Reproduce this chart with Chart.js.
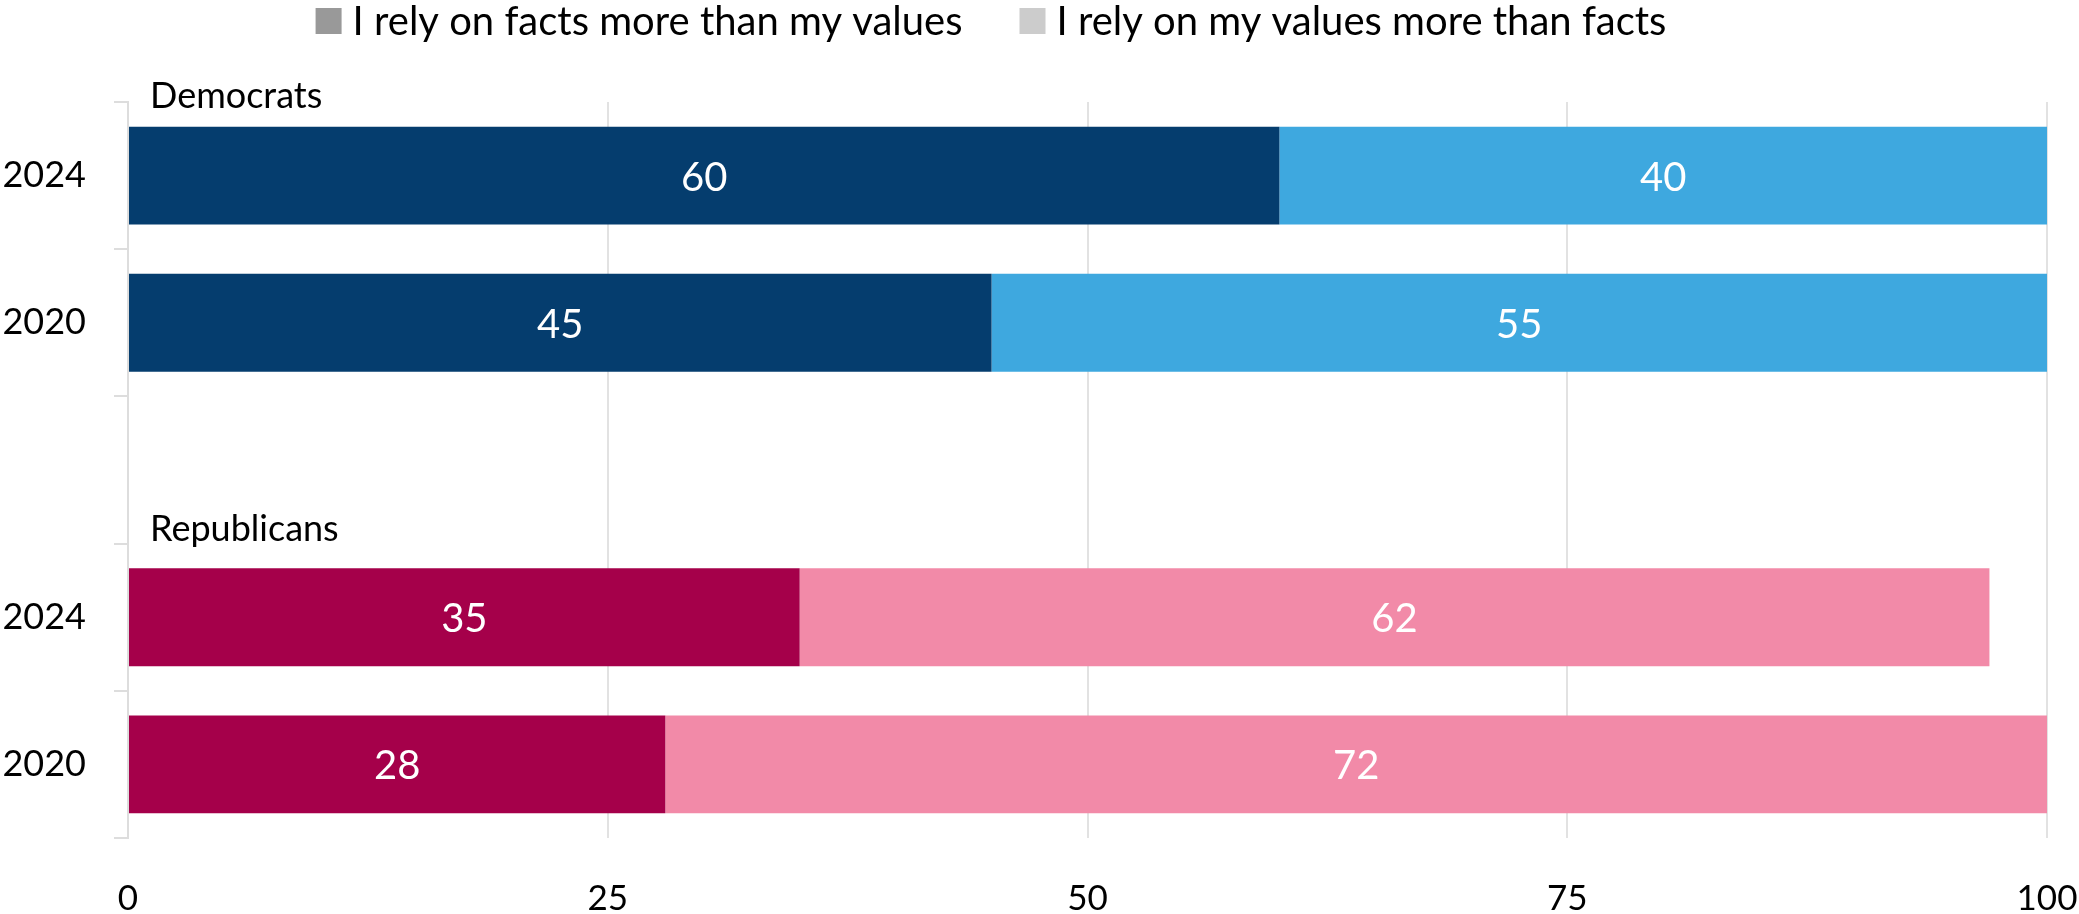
<!DOCTYPE html>
<html>
<head>
<meta charset="utf-8">
<script src="https://cdn.jsdelivr.net/npm/chart.js@4"></script>
<style>
  html, body { margin: 0; padding: 0; background: #fff; }
  #wrap { width: 2079px; height: 914px; }
</style>
</head>
<body>
<div id="wrap"><canvas id="chart" width="2079" height="914"></canvas></div>
<script>
// categories (the empty one is the gap between the two parties)
const years = ['2024', '2020', '', '2024', '2020'];
const factsShare = [60, 45, null, 35, 28];
const valuesShare = [40, 55, null, 62, 72];
const factsColors = ['#053d6e', '#053d6e', '#053d6e', '#a5004a', '#a5004a'];
const valuesColors = ['#3ea8df', '#3ea8df', '#3ea8df', '#f28aa8', '#f28aa8'];
const seriesNames = ['I rely on facts more than my values', 'I rely on my values more than facts'];
const legendColors = ['#999999', '#cccccc'];
const partyNames = ['Democrats', 'Republicans'];
const partyFirstRow = [0, 3];
const xTicks = [0, 25, 50, 75, 100];

const FONT = 'Lato, "Open Sans", sans-serif';

// legend drawn by hand: grey squares + text, centred a bit left of the page middle
const topLegend = {
    id: 'topLegend',
    afterDraw(chart) {
        const ctx = chart.ctx;
        ctx.save();
        ctx.font = '40px ' + FONT;
        const box = 26, boxGap = 11, itemGap = 57;
        const widths = seriesNames.map(n => box + boxGap + ctx.measureText(n).width);
        const total = widths.reduce((a, b) => a + b, 0) + itemGap * (widths.length - 1);
        let x = 991 - total / 2;
        ctx.textBaseline = 'middle';
        ctx.textAlign = 'left';
        seriesNames.forEach((n, i) => {
            ctx.fillStyle = legendColors[i];
            ctx.fillRect(x, 8, box, box);
            ctx.fillStyle = '#000';
            ctx.fillText(n, x + box + boxGap, 22);
            x += widths[i] + itemGap;
        });
        ctx.restore();
    },
};

// white numbers in the middle of each segment
const valueLabels = {
    id: 'valueLabels',
    afterDatasetsDraw(chart) {
        const ctx = chart.ctx;
        ctx.save();
        ctx.fillStyle = '#ffffff';
        ctx.font = '40px ' + FONT;
        ctx.textAlign = 'center';
        ctx.textBaseline = 'middle';
        chart.data.datasets.forEach((ds, di) => {
            chart.getDatasetMeta(di).data.forEach((bar, i) => {
                const v = ds.data[i];
                if (v == null) return;
                const p = bar.getCenterPoint();
                ctx.fillText(String(v), p.x, p.y + 2);
            });
        });
        ctx.restore();
    },
};

// party names above each group
const partyLabels = {
    id: 'partyLabels',
    afterDatasetsDraw(chart) {
        const ctx = chart.ctx;
        const y = chart.scales.y;
        const slot = Math.abs(y.getPixelForValue(1) - y.getPixelForValue(0));
        ctx.save();
        ctx.fillStyle = '#000000';
        ctx.font = '36px ' + FONT;
        ctx.textAlign = 'left';
        ctx.textBaseline = 'alphabetic';
        partyNames.forEach((name, k) => {
            const top = y.getPixelForValue(partyFirstRow[k]) - slot / 2;
            const off = k === 0 ? 6 : -3;
            ctx.fillText(name, chart.chartArea.left + 22, top + off);
        });
        ctx.restore();
    },
};

new Chart(document.getElementById('chart'), {
    type: 'bar',
    data: {
        labels: years,
        datasets: [
            { label: seriesNames[0], data: factsShare, backgroundColor: factsColors },
            { label: seriesNames[1], data: valuesShare, backgroundColor: valuesColors },
        ],
    },
    options: {
        indexAxis: 'y',
        responsive: false,
        animation: false,
        categoryPercentage: 1,
        barPercentage: 0.665,
        layout: { padding: { left: 4, right: 0, top: 102, bottom: 0 } },
        scales: {
            x: {
                stacked: true,
                min: 0,
                max: 100,
                afterBuildTicks(scale) {
                    scale.ticks = xTicks.map(v => ({ value: v }));
                },
                afterFit(scale) {
                    scale.height = 76;
                    scale.paddingRight = 32;
                },
                border: { display: false },
                grid: { color: '#e2e2e2', lineWidth: 2, drawTicks: false },
                ticks: { color: '#000', font: { family: FONT, size: 35 }, padding: 40, maxRotation: 0 },
            },
            y: {
                stacked: true,
                afterFit(scale) {
                    scale.width = 124;
                },
                border: { color: '#dddddd', width: 2 },
                grid: { drawOnChartArea: false, color: '#dddddd', lineWidth: 2, tickLength: 14, offset: true },
                ticks: { color: '#000', font: { family: FONT, size: 36 }, padding: 28 },
            },
        },
        plugins: {
            tooltip: { enabled: false },
            legend: { display: false },
        },
    },
    plugins: [valueLabels, partyLabels, topLegend],
});
</script>
</body>
</html>
